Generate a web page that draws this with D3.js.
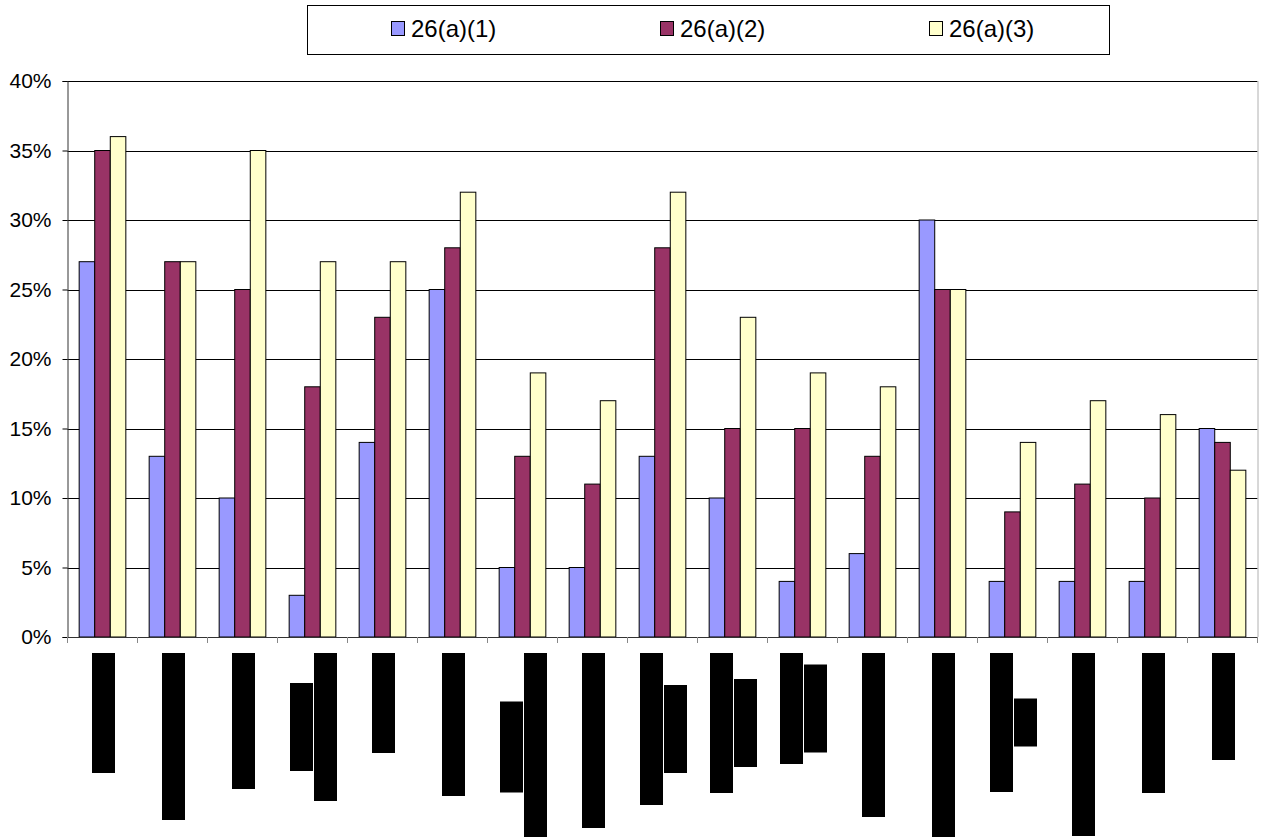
<!DOCTYPE html>
<html>
<head>
<meta charset="utf-8">
<script src="https://cdn.jsdelivr.net/npm/d3@7"></script>
<style>
  html, body { margin: 0; padding: 0; background: #fff; }
  svg { display: block; font-family: Arial, "Liberation Sans", sans-serif; }
</style>
</head>
<body>
<svg id="chart" width="1264" height="837"></svg>
<script>
// Survey items along the x axis (their labels are redacted)
const categories = ["1", "2", "3", "4", "5", "6", "7", "8", "9", "10", "11", "12", "13", "14", "15", "16", "17"];

// Series names and values (share of responses)
const seriesNames = ["26(a)(1)", "26(a)(2)", "26(a)(3)"];
const series1 = [0.27, 0.13, 0.10, 0.03, 0.14, 0.25, 0.05, 0.05, 0.13, 0.10, 0.04, 0.06, 0.30, 0.04, 0.04, 0.04, 0.15];
const series2 = [0.35, 0.27, 0.25, 0.18, 0.23, 0.28, 0.13, 0.11, 0.28, 0.15, 0.15, 0.13, 0.25, 0.09, 0.11, 0.10, 0.14];
const series3 = [0.36, 0.27, 0.35, 0.27, 0.27, 0.32, 0.19, 0.17, 0.32, 0.23, 0.19, 0.18, 0.25, 0.14, 0.17, 0.16, 0.12];

// Y axis ticks
const yTicks = [0, 0.05, 0.10, 0.15, 0.20, 0.25, 0.30, 0.35, 0.40];

// Redacted category labels: length of each rotated text line
const labelLineLengths = [
  [120], [167], [136], [88, 148], [100], [143], [91, 188], [175], [152, 88],
  [140, 88], [111, 88], [164], [188], [139, 48], [183], [140], [107]
];

const colors = ["#9999FF", "#993366", "#FFFFCC"];
const values = [series1, series2, series3];

const svg = d3.select("#chart");
const margin = { left: 67.5, right: 1257.5, top: 81, bottom: 637 };

const x = d3.scaleBand()
  .domain(categories)
  .range([margin.left, margin.right])
  .paddingInner(1.5 / 4.5)
  .paddingOuter(0.75 / 4.5);

const xSeries = d3.scaleBand()
  .domain(seriesNames)
  .range([0, x.bandwidth()])
  .padding(0);

const y = d3.scaleLinear()
  .domain([0, 0.40])
  .range([margin.bottom, margin.top]);

// Horizontal gridlines
svg.append("g")
  .selectAll("line")
  .data(yTicks.filter(d => d > 0))
  .join("line")
  .attr("x1", margin.left)
  .attr("x2", margin.right)
  .attr("y1", d => Math.round(y(d)) + 0.5)
  .attr("y2", d => Math.round(y(d)) + 0.5)
  .attr("stroke", "#000")
  .attr("stroke-width", 1);

// Plot area right border
svg.append("line")
  .attr("x1", margin.right + 0.5).attr("x2", margin.right + 0.5)
  .attr("y1", margin.top).attr("y2", margin.bottom)
  .attr("stroke", "#b0b0b0");

// Bars
const groups = svg.append("g")
  .selectAll("g")
  .data(categories)
  .join("g")
  .attr("transform", d => `translate(${x(d)},0)`);

groups.selectAll("rect")
  .data((d, i) => seriesNames.map((s, k) => ({ s, k, v: values[k][i] })))
  .join("rect")
  .attr("x", d => xSeries(d.s))
  .attr("width", xSeries.bandwidth())
  .attr("y", d => y(d.v))
  .attr("height", d => y(0) - y(d.v))
  .attr("fill", d => colors[d.k])
  .attr("stroke", "#000")
  .attr("stroke-width", 1);

// Y axis
const yAxis = d3.axisLeft(y)
  .tickValues(yTicks)
  .tickFormat(d3.format(".0%"))
  .tickSize(5)
  .tickPadding(11);

const yg = svg.append("g")
  .attr("transform", `translate(${margin.left},0)`)
  .call(yAxis);
yg.select(".domain").attr("stroke", "#333");
yg.selectAll(".tick line").attr("stroke", "#000");
yg.selectAll(".tick text")
  .attr("font-size", 21)
  .attr("font-family", "Arial, 'Liberation Sans', sans-serif")
  .attr("fill", "#000");

// X axis baseline and category ticks
const step = x.step();
svg.append("line")
  .attr("x1", margin.left).attr("x2", margin.right)
  .attr("y1", margin.bottom + 0.5).attr("y2", margin.bottom + 0.5)
  .attr("stroke", "#333");
svg.append("g")
  .selectAll("line")
  .data(d3.range(categories.length + 1))
  .join("line")
  .attr("x1", i => margin.left + i * step)
  .attr("x2", i => margin.left + i * step)
  .attr("y1", margin.bottom)
  .attr("y2", margin.bottom + 6)
  .attr("stroke", "#888");

// Redacted rotated category labels
const lineW = 23, linePitch = 24, labelTop = margin.bottom + 16;
const labelGroups = svg.append("g")
  .selectAll("g")
  .data(categories)
  .join("g");

labelGroups.each(function (c, i) {
  const lines = labelLineLengths[i];
  const total = lines.length * lineW + (lines.length - 1) * (linePitch - lineW);
  const cx = x(c) + x.bandwidth() / 2 + 1;
  const maxLen = d3.max(lines);
  const cy = labelTop + maxLen / 2;
  d3.select(this).selectAll("rect")
    .data(lines)
    .join("rect")
    .attr("x", (d, j) => cx - total / 2 + j * linePitch)
    .attr("width", lineW)
    .attr("y", d => cy - d / 2)
    .attr("height", d => d)
    .attr("fill", "#000");
});

// Legend
const legend = svg.append("g");
legend.append("rect")
  .attr("x", 307.5).attr("y", 5.5)
  .attr("width", 802).attr("height", 49)
  .attr("fill", "#fff")
  .attr("stroke", "#000");

const legendX = d3.scalePoint()
  .domain(seriesNames)
  .range([391, 929]);

const items = legend.selectAll("g.item")
  .data(seriesNames)
  .join("g")
  .attr("class", "item")
  .attr("transform", d => `translate(${legendX(d)},0)`);

items.append("rect")
  .attr("x", 0.5).attr("y", 21.5)
  .attr("width", 13).attr("height", 14)
  .attr("fill", (d, i) => colors[i])
  .attr("stroke", "#000");

items.append("text")
  .attr("x", 20)
  .attr("y", 28)
  .attr("dominant-baseline", "central")
  .attr("font-size", 24)
  .attr("fill", "#000")
  .text(d => d);
</script>
</body>
</html>
